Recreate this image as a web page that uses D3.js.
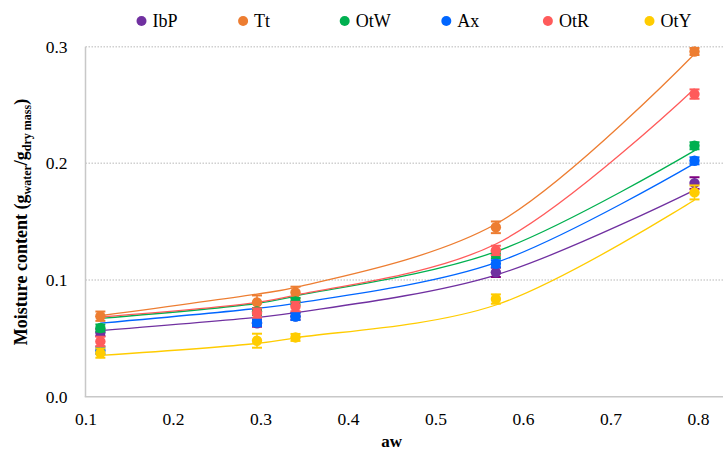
<!DOCTYPE html>
<html><head><meta charset="utf-8">
<script src="https://cdn.jsdelivr.net/npm/d3@7"></script>
<style>
html,body{margin:0;padding:0;background:#fff;}
svg{display:block;}
</style></head>
<body>
<svg id="chart" width="725" height="451"></svg>
<script>
// ---- data ----
const seriesNames = ["IbP","Tt","OtW","Ax","OtR","OtY"];
const seriesColors = ["#7030A0","#ED7D31","#00B050","#0066FF","#FF5B5B","#FFCC00"];
const errColors = ["#800080","#ED7D31","#00B050","#0066FF","#FF5B5B","#FFCC00"];
const aw = [0.117, 0.296, 0.340, 0.569, 0.796];
// measured moisture content
const IbP = [0.055, 0.063, 0.069, 0.1066, 0.1831];
const Tt  = [0.0690, 0.0808, 0.0893, 0.1452, 0.2959];
const OtW = [0.0589, 0.073, 0.0817, 0.1217, 0.2151];
const Ax  = [0.0397, 0.0637, 0.0687, 0.1140, 0.2022];
const OtR = [0.0474, 0.0717, 0.0773, 0.1254, 0.2594];
const OtY = [0.0374, 0.0480, 0.0508, 0.0837, 0.1751];
// standard deviations
const IbPErr = [0.003, 0.003, 0.003, 0.004, 0.005];
const TtErr  = [0.004, 0.006, 0.005, 0.005, 0.003];
const OtWErr = [0.003, 0.003, 0.003, 0.003, 0.003];
const AxErr  = [0.003, 0.003, 0.003, 0.003, 0.003];
const OtRErr = [0.004, 0.004, 0.004, 0.004, 0.004];
const OtYErr = [0.004, 0.006, 0.003, 0.004, 0.006];
// fitted model values at the same aw
const IbPFit = [0.0566, 0.068, 0.072, 0.1043, 0.1771];
const TtFit  = [0.0694, 0.088, 0.0937, 0.148, 0.2937];
const OtWFit = [0.0671, 0.080, 0.0863, 0.1243, 0.2109];
const AxFit  = [0.063, 0.0757, 0.080, 0.1149, 0.200];
const OtRFit = [0.0683, 0.0808, 0.087, 0.1309, 0.264];
const OtYFit = [0.0354, 0.0457, 0.0505, 0.0786, 0.1686];
const xTicks = [0.1,0.2,0.3,0.4,0.5,0.6,0.7,0.8];
const yTicks = [0.0,0.1,0.2,0.3];

const measured = [IbP,Tt,OtW,Ax,OtR,OtY];
const errors = [IbPErr,TtErr,OtWErr,AxErr,OtRErr,OtYErr];
const fits = [IbPFit,TtFit,OtWFit,AxFit,OtRFit,OtYFit];

const FONT = '"Liberation Serif", "DejaVu Serif", serif';

// ---- layout ----
const svg = d3.select("#chart");
const x = d3.scaleLinear().domain([0.1,0.8]).range([85.5,698]);
const y = d3.scaleLinear().domain([0,0.3]).range([396.7,46.7]);
const plotRight = 723;

// gridlines
svg.append("g").selectAll("line").data(yTicks.filter(d=>d>0)).join("line")
  .attr("x1",x(0.1)).attr("x2",plotRight)
  .attr("y1",d=>y(d)).attr("y2",d=>y(d))
  .attr("stroke","#D0D0D0").attr("stroke-width",1.5).attr("stroke-dasharray","1.5,1.5");

// axes lines
svg.append("line").attr("x1",x(0.1)).attr("x2",x(0.1)).attr("y1",y(0.3)).attr("y2",y(0))
  .attr("stroke","#C8C8C8").attr("stroke-width",1.5);
svg.append("line").attr("x1",x(0.1)-0.75).attr("x2",plotRight).attr("y1",y(0)).attr("y2",y(0))
  .attr("stroke","#C8C8C8").attr("stroke-width",1.5);

// tick labels via axes (no lines)
const yAxis = svg.append("g").attr("transform",`translate(${x(0.1)},0)`)
  .call(d3.axisLeft(y).tickValues(yTicks).tickFormat(d3.format(".1f")).tickSize(0).tickPadding(18));
const xAxis = svg.append("g").attr("transform",`translate(0,${y(0)})`)
  .call(d3.axisBottom(x).tickValues(xTicks).tickFormat(d3.format(".1f")).tickSize(0).tickPadding(16));
[yAxis,xAxis].forEach(a=>{
  a.attr("font-family",null).attr("font-size",null);
  a.select(".domain").remove();
  a.selectAll("text").style("font-family",FONT).style("font-size","17.5px").attr("fill","#000");
});

// axis titles
svg.append("text").attr("x",x(0.45)).attr("y",447).attr("text-anchor","middle")
  .style("font-family",FONT).style("font-size","17px").attr("font-weight","bold").text("aw");
const yt = svg.append("text").attr("transform","translate(27,222) rotate(-90)")
  .attr("text-anchor","middle").style("font-family",FONT).style("font-size","18px").attr("font-weight","bold");
yt.append("tspan").text("Moisture content (g");
yt.append("tspan").style("font-size","12px").attr("dy",4).text("water");
yt.append("tspan").attr("dy",-4).text("/g");
yt.append("tspan").style("font-size","12px").attr("dy",4).text("dry mass");
yt.append("tspan").attr("dy",-4).text(")");

// fitted curves
const line = d3.line().x(d=>x(d[0])).y(d=>y(d[1])).curve(d3.curveCatmullRom.alpha(0.5));
svg.append("g").selectAll("path").data(fits).join("path")
  .attr("d",f=>line(aw.map((a,i)=>[a,f[i]])))
  .attr("fill","none").attr("stroke",(d,i)=>seriesColors[i]).attr("stroke-width",1.3);

// points + error bars
measured.forEach((vals,s)=>{
  const g = svg.append("g");
  const pts = aw.map((a,i)=>({a,v:vals[i],e:errors[s][i]}));
  g.selectAll("line.v").data(pts).join("line")
    .attr("x1",d=>x(d.a)).attr("x2",d=>x(d.a))
    .attr("y1",d=>y(d.v-d.e)).attr("y2",d=>y(d.v+d.e))
    .attr("stroke",errColors[s]).attr("stroke-width",1.5);
  ["lo","hi"].forEach(k=>{
    g.selectAll("line."+k).data(pts).join("line")
      .attr("x1",d=>x(d.a)-5).attr("x2",d=>x(d.a)+5)
      .attr("y1",d=>y(k==="lo"?d.v-d.e:d.v+d.e)).attr("y2",d=>y(k==="lo"?d.v-d.e:d.v+d.e))
      .attr("stroke",errColors[s]).attr("stroke-width",2);
  });
  g.selectAll("circle").data(pts).join("circle")
    .attr("cx",d=>x(d.a)).attr("cy",d=>y(d.v)).attr("r",5.2)
    .attr("fill",seriesColors[s]);
});

// legend
const legendX = d3.scalePoint().domain(seriesNames).range([141.5,649.5]);
const lg = svg.append("g").selectAll("g").data(seriesNames).join("g")
  .attr("transform",d=>`translate(${legendX(d)},21)`);
lg.append("circle").attr("r",5).attr("fill",(d,i)=>seriesColors[i]);
lg.append("text").attr("x",11).attr("dy","0.35em").style("font-family",FONT).style("font-size","18px").text(d=>d);
</script>
</body></html>
